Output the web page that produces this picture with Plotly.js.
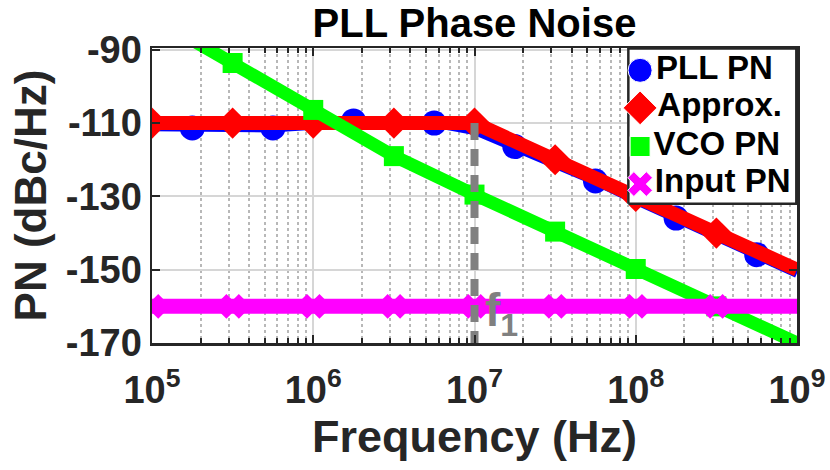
<!DOCTYPE html>
<html>
<head>
<meta charset="utf-8">
<script src="https://cdn.plot.ly/plotly-3.0.1.min.js"></script>
<style>html,body{margin:0;padding:0;background:#fff;}#chart{width:830px;height:470px;}</style>
</head>
<body>
<div id="chart"></div>
<script>
// ---- data ----
// half-decade frequency grid (Hz)
var FREQ = [1e5, 3.162e5, 1e6, 3.162e6, 1e7, 3.162e7, 1e8, 3.162e8, 1e9];
var APPROX_PN = [-110, -110, -110, -110, -110, -120, -130, -140, -150];
var VCO_PN = [-81, -93.6, -106.4, -119, -129.5, -139.6, -149.8, -160, -170];
var INPUT_PN = [-160, -160, -160, -160, -160, -160, -160, -160, -160];
// quarter-decade grid for the PLL curve
var PLL_FREQ = [1e5, 1.778e5, 3.162e5, 5.623e5, 1e6, 1.778e6, 3.162e6, 5.623e6, 1e7,
                1.778e7, 3.162e7, 5.623e7, 1e8, 1.778e8, 3.162e8, 5.623e8, 1e9];
var PLL_PN = [-111, -111.3, -111.3, -111.3, -110.6, -109.4, -109.3, -110, -112,
              -116.4, -121, -125.8, -131, -135.9, -141, -145.9, -151];
var F1 = 1e7;
var F1_TOP = -110;
var NAMES = ['PLL PN', 'Approx.', 'VCO PN', 'Input PN'];
var Y_TICKS = [-170, -150, -130, -110, -90];
var Y_TICK_TEXT = ['-170', '-150', '-130', '-110', '-90'];
var X_TICKS = [1e5, 1e6, 1e7, 1e8, 1e9];
var X_TICK_TEXT = ['10<sup>5</sup>', '10<sup>6</sup>', '10<sup>7</sup>', '10<sup>8</sup>', '10<sup>9</sup>'];
var X_TITLE = 'Frequency (Hz)';
var Y_TITLE = 'PN (dBc/Hz)';
var TITLE = 'PLL Phase Noise';

// ---- helpers ----
function pick(arr, idx) { return idx.map(function (i) { return arr[i]; }); }
var halfIdx = [0, 1, 2, 3, 4, 5, 6, 7];
var vcoIdx = [1, 2, 3, 4, 5, 6, 7];
var pllIdx = [1, 3, 5, 7, 9, 11, 13, 15];

var BLUE = '#0000ff', RED = '#ff0000', GREEN = '#00ff00', MAG = '#ff00ff';
var COLORS = [BLUE, RED, GREEN, MAG];
var SYMBOLS = ['circle', 'diamond', 'square', 'x'];
var SIZES = [25, 24, 20, 22];
var LW = [9, 14, 13, 15];

var lineX = [PLL_FREQ, FREQ, FREQ, FREQ];
var lineY = [PLL_PN, APPROX_PN, VCO_PN, INPUT_PN];
var mkIdx = [pllIdx, halfIdx, vcoIdx, halfIdx];

var AX = '#262626';
var FONT = 'Liberation Sans, Arial, sans-serif';

var traces = [];
for (var s = 0; s < 4; s++) {
  traces.push({x: lineX[s], y: lineY[s], mode: 'lines', line: {color: COLORS[s], width: LW[s]},
               showlegend: false, hoverinfo: 'skip'});
  traces.push({x: pick(lineX[s], mkIdx[s]), y: pick(lineY[s], mkIdx[s]), mode: 'markers', name: NAMES[s],
               showlegend: false, marker: {symbol: SYMBOLS[s], color: COLORS[s], size: SIZES[s]}});
}
traces.push({x: [F1, F1], y: [F1_TOP, -170], mode: 'lines',
             line: {color: '#808080', width: 8, dash: '17px,9px'}, showlegend: false, hoverinfo: 'skip'});

// legend drawn as a small inset subplot (x2/y2, unit ranges): frame + entries
traces.push({
  x: [0, 1, 1, 0, 0], y: [0, 0, 1, 1, 0], xaxis: 'x2', yaxis: 'y2',
  mode: 'lines', fill: 'toself', fillcolor: '#ffffff', line: {color: AX, width: 2.5},
  showlegend: false, hoverinfo: 'skip'
});
var LEG_ROWS = [0.86, 0.618, 0.369, 0.127];
traces.push({
  x: [0.07, 0.07, 0.07, 0.07], y: LEG_ROWS, xaxis: 'x2', yaxis: 'y2',
  mode: 'markers+text', text: NAMES, textposition: 'middle right', cliponaxis: false,
  marker: {symbol: SYMBOLS, color: COLORS, size: [24, 26, 20, 22], opacity: 1},
  textfont: {family: FONT, size: 33, weight: 'bold', color: '#000'},
  showlegend: false, hoverinfo: 'skip'
});

var L = 152, R = 797, T = 48, B = 343;
var legL = 627, legB = 205;
var pw = R - L, ph = B - T;
var pad = 0.008;

var layout = {
  width: 830, height: 470,
  margin: {l: L, r: 830 - R, t: T, b: 470 - B, pad: 0},
  paper_bgcolor: '#fff', plot_bgcolor: '#fff',
  font: {family: FONT, color: AX},
  showlegend: false,
  title: {text: TITLE, font: {family: FONT, size: 40, weight: 'bold', color: '#000'},
          x: 0.5, xref: 'paper', y: 0.951, yref: 'container', yanchor: 'middle'},
  xaxis: {
    type: 'log', range: [5, 9], tickvals: X_TICKS, ticktext: X_TICK_TEXT, ticklabeloverflow: 'allow',
    showline: true, linecolor: AX, linewidth: 2.5, mirror: 'ticks',
    ticks: 'inside', ticklen: 8, tickwidth: 2, tickcolor: AX, ticklabelstandoff: 12,
    showgrid: true, gridcolor: '#d6d6d6', gridwidth: 2,
    minor: {dtick: 'D1', showgrid: true, gridcolor: '#b8b8b8', gridwidth: 2, griddash: 'dot',
            ticks: 'inside', ticklen: 5, tickwidth: 2, tickcolor: AX},
    tickfont: {family: FONT, size: 38, weight: 'bold', color: AX},
    zeroline: false,
    title: {text: X_TITLE, font: {family: FONT, size: 45, weight: 'bold', color: AX}, standoff: 0}
  },
  yaxis: {
    range: [-170, -89.5], tickvals: Y_TICKS, ticktext: Y_TICK_TEXT,
    showline: true, linecolor: AX, linewidth: 2.5, mirror: 'ticks',
    ticks: 'inside', ticklen: 8, tickwidth: 2, tickcolor: AX,
    showgrid: true, gridcolor: '#d6d6d6', gridwidth: 2,
    tickfont: {family: FONT, size: 38, weight: 'bold', color: AX},
    zeroline: false,
    title: {text: Y_TITLE, font: {family: FONT, size: 44, weight: 'bold', color: AX}, standoff: 6}
  },
  xaxis2: {domain: [(legL - L) / pw, 1], anchor: 'y2', range: [-pad, 1 + pad / 2], visible: false, fixedrange: true},
  yaxis2: {domain: [(B - legB) / ph, 1], anchor: 'x2', range: [-pad, 1 + pad / 2], visible: false, fixedrange: true},
  annotations: [{
    x: Math.log10(F1), y: -162, xref: 'x', yref: 'y', xanchor: 'left', yanchor: 'middle',
    xshift: 8, showarrow: false, text: 'f<sub>1</sub>',
    font: {family: FONT, size: 46, weight: 'bold', color: '#808080'}
  }]
};

Plotly.newPlot('chart', traces, layout, {staticPlot: true, displayModeBar: false});
</script>
</body>
</html>
